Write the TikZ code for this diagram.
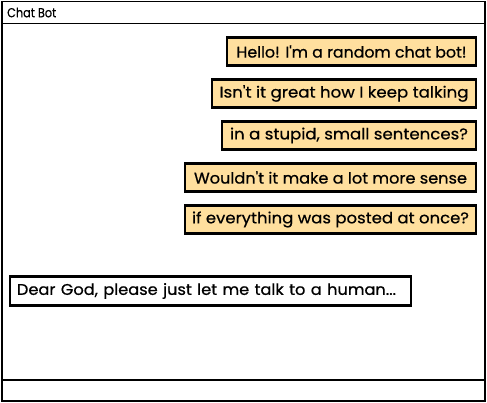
\documentclass[tikz,border=0pt]{standalone}
\usepackage{fontspec}
\setmainfont{Poppins}
\newfontfamily\bubblefont{Poppins}[FakeBold=0.6]
\newfontfamily\titlefont{Poppins}[FakeBold=0.3]
\definecolor{bubblefill}{HTML}{FFDF9E}
\newcommand{\sq}{\textquotesingle}
\newcommand{\fitw}[2]{\resizebox{#1}{\height}{#2}}
\tikzset{
  frame/.style={draw=black, line width=1.8pt},
  bubble/.style={draw=black, line width=2.2pt, fill=bubblefill, minimum height=28pt, inner sep=0pt, font=\bubblefont\fontsize{15.5}{17}\selectfont},
  human/.style={draw=black, line width=2.2pt, fill=white, minimum height=29pt, inner ysep=0pt, inner xsep=7pt, text width=387pt, align=left, font=\bubblefont\fontsize{15.5}{17}\selectfont},
  titletext/.style={anchor=west, inner sep=0pt, font=\titlefont\fontsize{13}{15}\selectfont}
}
\begin{document}
\begin{tikzpicture}[x=1pt, y=-1pt]
\useasboundingbox (0,0) rectangle (487,403);
\fill[white] (0,0) rectangle (487,403);
% window frame
\draw[frame] (2,1.5) rectangle (485,401);
\draw[frame] (2,23.5) -- (485,23.5);
\draw[frame] (2,380) -- (485,380);
\node[titletext] (title) at (7,12.5) {\fitw{49pt}{Chat Bot}};
% bot bubbles
\node[bubble, minimum width=249pt] (b1) at (351.5,51.5) {\fitw{230pt}{Hello! I\sq m a random chat bot!}};
\node[bubble, minimum width=264pt] (b2) at (344,93.5) {\fitw{249pt}{Isn\sq t it great how I keep talking}};
\node[bubble, minimum width=254pt] (b3) at (349,135.5) {\fitw{238pt}{in a stupid, small sentences?}};
\node[bubble, minimum width=291pt] (b4) at (330.5,177.5) {\fitw{273pt}{Wouldn\sq t it make a lot more sense}};
\node[bubble, minimum width=291pt] (b5) at (330.5,219.5) {\fitw{277pt}{if everything was posted at once?}};
% human message
\node[human] (h1) at (210.5,291) {\fitw{379pt}{Dear God, please just let me talk to a human...}};
\end{tikzpicture}
\end{document}
